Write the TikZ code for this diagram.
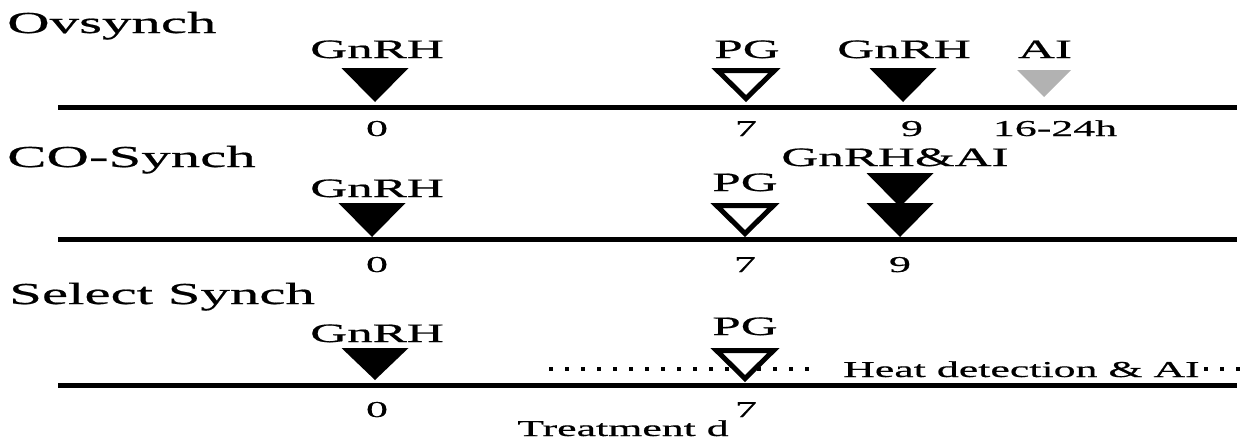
\documentclass[tikz,border=0pt]{standalone}
\usepackage{fontspec}
\setmainfont[FakeStretch=1.93,FakeBold=0.6]{Liberation Serif}
\newcommand\solidtri[4][black]{\fill[#1] (#2-33.5,#3) -- (#2+33.5,#3) -- (#2,#3+#4) -- cycle;}
\newcommand\opentri[2]{\draw[line width=5pt,fill=white] (#1-28.5,#2+2.5) -- (#1+28.5,#2+2.5) -- (#1,#2+30.5) -- cycle;}
\begin{document}
\begin{tikzpicture}[x=1pt,y=-1pt,
  title/.style={anchor=base west,inner sep=0pt,font=\fontsize{30.5}{32}\selectfont},
  lab/.style={anchor=base,inner sep=0pt,font=\fontsize{26.5}{28}\selectfont},
  small/.style={anchor=base,inner sep=0pt,font=\fontsize{22.7}{24}\selectfont},
  axis/.style={line width=5pt},
  dots/.style={line width=4pt,dash pattern=on 4pt off 12pt}]
\useasboundingbox (0,0) rectangle (1244,440);
% ---------- Ovsynch ----------
\node[title] (t1) at (7,33) {Ovsynch};
\draw[axis] (58,107) -- (1237,107);
\solidtri{375}{68}{34}
\opentri{746}{68}
\solidtri{903}{68}{34}
\fill[black!30] (1044-27,70) -- (1044+27,70) -- (1044,97) -- cycle;
\node[lab] (a1) at (377,58) {GnRH};
\node[lab] (a2) at (747,58) {PG};
\node[lab] (a3) at (904,58) {GnRH};
\node[lab] (a4) at (1045,58) {AI};
\node[small] (d1) at (377,136) {0};
\node[small] (d2) at (746,136) {7};
\node[small] (d3) at (912,136) {9};
\node[small] (d4) at (1055,136) {16-24h};
% ---------- CO-Synch ----------
\node[title] (t2) at (7,167) {CO-Synch};
\draw[axis] (58,239) -- (1237,239);
\solidtri{372}{203}{34}
\opentri{745}{203}
\solidtri{900}{173}{34}
\solidtri{900}{203}{34}
\node[lab] (b1) at (377,197) {GnRH};
\node[lab] (b2) at (745,191) {PG};
\node[lab] (b3) at (895,166) {GnRH\&AI};
\node[small] (e1) at (377,272) {0};
\node[small] (e2) at (745,272) {7};
\node[small] (e3) at (900,272) {9};
% ---------- Select Synch ----------
\node[title] (t3) at (9,304) {Select Synch};
\draw[axis] (58,385) -- (1237,385);
\draw[dots] (549,369) -- (815,369);
\solidtri{375}{348}{32}
\opentri{745}{348}
\node[lab] (c1) at (377,342) {GnRH};
\node[lab] (c2) at (745,335) {PG};
\node[small,anchor=base west] (h) at (843,377) {Heat detection \& AI};
\draw[dots] (1204,369) -- (1244,369);
\node[small] (f1) at (377,417) {0};
\node[small] (f2) at (746,417) {7};
\node[small] (xl) at (623,436) {Treatment d};
\end{tikzpicture}
\end{document}
